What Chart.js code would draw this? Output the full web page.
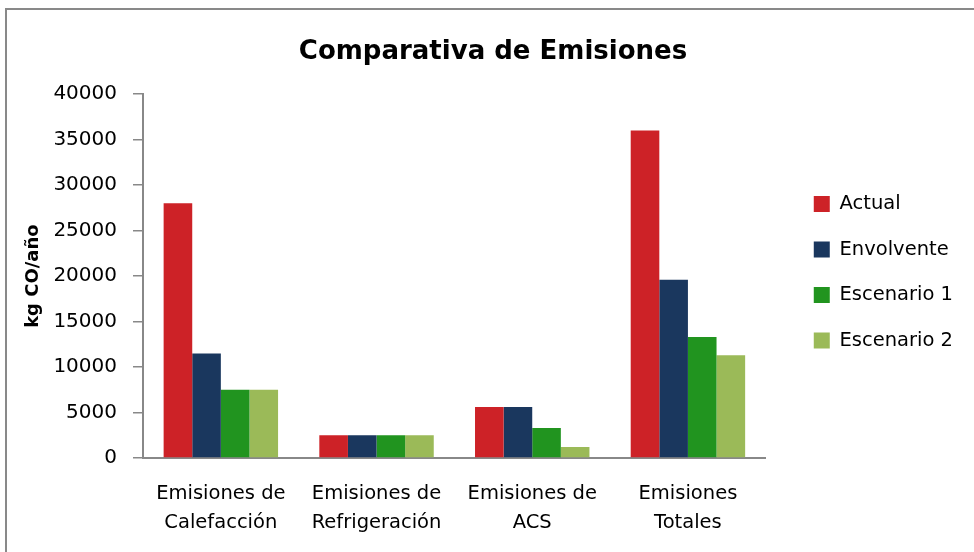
<!DOCTYPE html>
<html>
<head>
<meta charset="utf-8">
<script src="https://cdn.jsdelivr.net/npm/chart.js@4.4.1/dist/chart.umd.min.js"></script>
<style>
  html, body { margin: 0; padding: 0; background: #fff; overflow: hidden; }
  #wrap { position: relative; width: 974px; height: 552px; }
  #chart { display: block; }
  #frame {
    position: absolute; left: 5px; top: 8px; width: 1000px; height: 600px;
    border: 2px solid #898989; box-sizing: border-box; pointer-events: none;
  }
</style>
</head>
<body>
<div id="wrap">
  <canvas id="chart" width="974" height="552"></canvas>
  <div id="frame"></div>
</div>
<script>
// Emission categories (two-line axis labels)
const categories = [
  ["Emisiones de", "Calefacción"],
  ["Emisiones de", "Refrigeración"],
  ["Emisiones de", "ACS"],
  ["Emisiones", "Totales"]
];

// kg CO/año per scenario
const actual     = [28000, 2500, 5600, 36000];
const envolvente = [11500, 2500, 5600, 19600];
const escenario1 = [7500, 2500, 3300, 13300];
const escenario2 = [7500, 2500, 1200, 11300];

const seriesNames = ["Actual", "Envolvente", "Escenario 1", "Escenario 2"];
const seriesColors = ["#CD2227", "#1A375E", "#21941F", "#9BBA58"];

// y axis range and step
const yMin = 0;
const yMax = 40000;
const yStep = 5000;

const FONT = "'DejaVu Sans', sans-serif";

// Nudges the title and legend blocks after Chart.js has laid out the boxes
const blockOffsets = {
  id: 'blockOffsets',
  afterLayout(chart) {
    const t = chart.titleBlock;
    if (t) { t.left += 22.5; t.right += 22.5; }
    const l = chart.legend;
    if (l) { l.left += 22; l.right += 22; l.top -= 3.75; l.bottom -= 3.75; }
  }
};

const seriesValues = [actual, envolvente, escenario1, escenario2];

new Chart(document.getElementById('chart'), {
  type: 'bar',
  data: {
    labels: categories,
    datasets: seriesNames.map((name, i) => ({
      label: name,
      data: seriesValues[i],
      backgroundColor: seriesColors[i],
      borderWidth: 0,
      categoryPercentage: 0.735,
      barPercentage: 1.0
    }))
  },
  options: {
    responsive: false,
    animation: false,
    devicePixelRatio: 1,
    layout: { padding: { left: 0, right: 33, top: 0, bottom: 0 } },
    plugins: {
      title: {
        display: true,
        text: 'Comparativa de Emisiones',
        color: '#000',
        font: { family: FONT, size: 26, weight: 'bold' },
        padding: { top: 37, bottom: 26 }
      },
      legend: {
        position: 'right',
        align: 'center',
        labels: {
          boxWidth: 16,
          boxHeight: 16,
          padding: 26,
          color: '#000',
          font: { family: FONT, size: 19.5 }
        }
      },
      tooltip: { enabled: false }
    },
    scales: {
      x: {
        grid: { display: false, drawTicks: false },
        border: { display: true, color: '#888', width: 2 },
        ticks: {
          color: '#000',
          font: { family: FONT, size: 19.5, lineHeight: 1.5 },
          padding: 21,
          maxRotation: 0,
          autoSkip: false
        },
        afterFit: (s) => { s.height = 94; }
      },
      y: {
        min: yMin,
        max: yMax,
        grid: {
          display: true,
          drawOnChartArea: false,
          drawTicks: true,
          tickLength: 10,
          color: '#888',
          lineWidth: 1.5
        },
        border: { display: true, color: '#888', width: 2 },
        ticks: {
          stepSize: yStep,
          color: '#000',
          padding: 16,
          font: { family: FONT, size: 20 },
          callback: (v) => String(v)
        },
        title: {
          display: true,
          text: 'kg CO/año',
          color: '#000',
          font: { family: FONT, size: 18, weight: 'bold' },
          padding: { top: 23, bottom: 0 }
        },
        afterFit: (s) => { s.width = 143; }
      }
    }
  },
  plugins: [blockOffsets]
});
</script>
</body>
</html>
